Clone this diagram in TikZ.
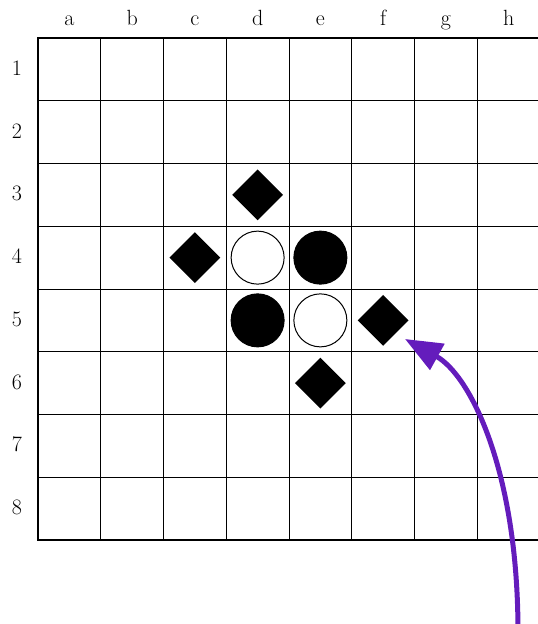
\documentclass[tikz,border=0pt]{standalone}
\usetikzlibrary{arrows.meta,shapes.geometric}
\definecolor{arrowpurple}{RGB}{100,28,188}
\begin{document}
\begin{tikzpicture}[x=1pt,y=-1pt,
  gridline/.style={line width=1pt,black},
  boardborder/.style={line width=2pt,black},
  collabel/.style={anchor=base,font=\fontsize{22}{26}\selectfont},
  rowlabel/.style={anchor=base,font=\fontsize{22}{26}\selectfont},
  whitestone/.style={circle,draw=black,line width=1pt,fill=white,minimum size=53pt,inner sep=0pt},
  blackstone/.style={circle,draw=black,line width=1pt,fill=black,minimum size=53pt,inner sep=0pt},
  movemark/.style={diamond,fill=black,minimum size=51pt,inner sep=0pt},
  movearrow/.style={line width=5pt,arrowpurple,-{Triangle[length=37pt,width=29pt]}}]
\useasboundingbox (0,0) rectangle (538,624);
\def\cs{62.75}
% grid
\foreach \i in {1,...,7}{
  \draw[gridline] ({38+\i*\cs},38) -- ({38+\i*\cs},540);
  \draw[gridline] (38,{38+\i*\cs}) -- (540,{38+\i*\cs});
}
\draw[boardborder] (38,38) rectangle (540,540);
% labels
\foreach \l [count=\i] in {a,b,c,d,e,f,g,h}{
  \node[collabel] (col\l) at ({38+(\i-0.5)*\cs},25) {\l};
}
\foreach \r in {1,...,8}{
  \node[rowlabel] (row\r) at (17,{38+(\r-0.5)*\cs+6}) {\r};
}
% stones
\node[whitestone] (d4) at ({38+3.5*\cs},{38+3.5*\cs}) {};
\node[blackstone] (e4) at ({38+4.5*\cs},{38+3.5*\cs}) {};
\node[blackstone] (d5) at ({38+3.5*\cs},{38+4.5*\cs}) {};
\node[whitestone] (e5) at ({38+4.5*\cs},{38+4.5*\cs}) {};
% move marks
\node[movemark] (d3) at ({38+3.5*\cs},{38+2.5*\cs}) {};
\node[movemark] (c4) at ({38+2.5*\cs},{38+3.5*\cs}) {};
\node[movemark] (f5) at ({38+5.5*\cs},{38+4.5*\cs}) {};
\node[movemark] (e6) at ({38+4.5*\cs},{38+5.5*\cs}) {};
% arrow
\coordinate (arrowstart) at (518,632);
\coordinate (arrowtip) at (405,339);
\draw[movearrow] (arrowstart) .. controls (518,470) and (470,375) .. (arrowtip);
\end{tikzpicture}
\end{document}
